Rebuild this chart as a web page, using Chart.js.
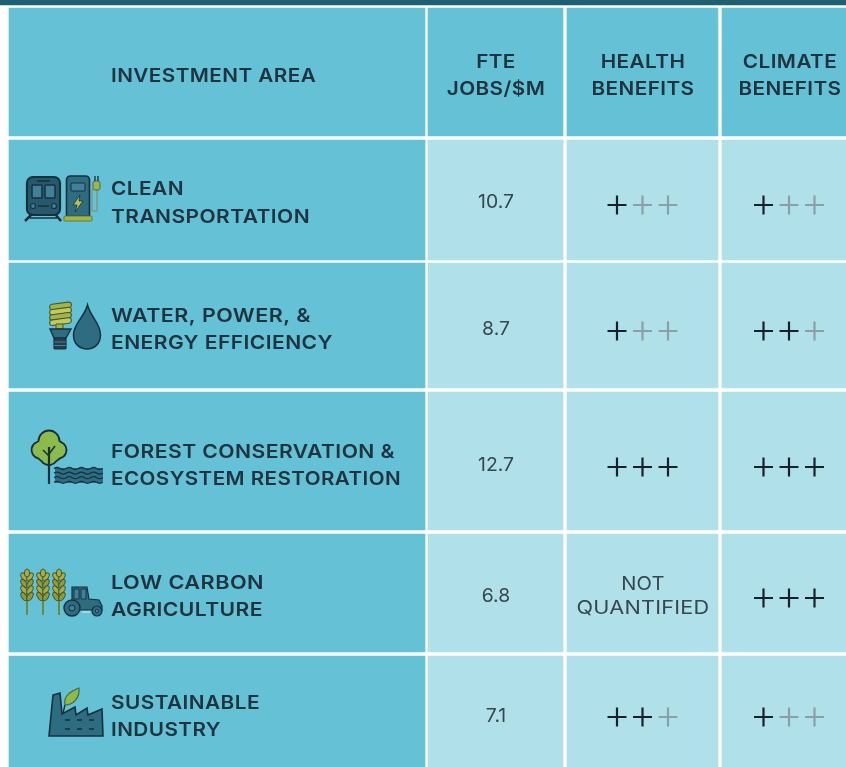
<!DOCTYPE html>
<html>
<head>
<meta charset="utf-8">
<title>Investment areas</title>
<script src="https://cdn.jsdelivr.net/npm/chart.js@4"></script>
<style>
  html, body { margin: 0; padding: 0; background: #fff; overflow: hidden; }
  canvas { display: block; }
</style>
</head>
<body>
<canvas id="chartTable" width="846" height="767"></canvas>
<script>
// data
const headers = [['INVESTMENT AREA'], ['FTE', 'JOBS/$M'], ['HEALTH', 'BENEFITS'], ['CLIMATE', 'BENEFITS']];
const investmentAreas = [
    ['CLEAN', 'TRANSPORTATION'],
    ['WATER, POWER, &', 'ENERGY EFFICIENCY'],
    ['FOREST CONSERVATION &', 'ECOSYSTEM RESTORATION'],
    ['LOW CARBON', 'AGRICULTURE'],
    ['SUSTAINABLE', 'INDUSTRY']
];
const fteJobs = [10.7, 8.7, 12.7, 6.8, 7.1];
const healthBenefits = [1, 1, 3, null, 2];   // null = not quantified
const climateBenefits = [1, 2, 3, 3, 1];
const maxScore = 3;
const notQuantified = ['NOT', 'QUANTIFIED'];

// layout of the table, in canvas pixels
const columnEdges = [[9, 425], [428, 563], [567, 718], [722, 846]];
const rowEdges = [[8, 136], [140, 260], [263, 388], [392, 530], [534, 652], [656, 767]];
const topBand = [0, 5];
const columnCenters = [213, 496, 643, 790];
const plusCenters = [642.5, 789];
const plusStep = 25.5;
const plusY = [205, 331, 467, 598, 717];
const valueY = [201, 328, 464, 595, 715];
const labelX = 111;
const labelBaselines = [[195, 223], [322, 349], [458, 485], [589, 616], [709, 736]];
const labelRight = [[184, 310], [311, 333], [395, 401], [264, 263], [260, 221]];
const headerBaselines = [[82], [68, 95], [68, 95], [68, 95]];

const blue = '#64c1d6';
const lightBlue = '#b0e0ea';
const band = '#1c6072';
const ink = '#20343f';
const plusOn = '#16212c';
const plusOff = '#8a9fa8';

// one floating bar dataset for each row of the table
const rowDatasets = rowEdges.map((edges, r) => ({
    type: 'bar',
    indexAxis: 'y',
    grouped: false,
    order: 1,
    barThickness: edges[1] - edges[0],
    data: columnEdges.map(c => ({ x: c, y: (edges[0] + edges[1]) / 2 })),
    backgroundColor: columnEdges.map((c, i) => (r === 0 || i === 0) ? blue : lightBlue),
    borderWidth: 0
}));

const bandDataset = {
    type: 'bar',
    indexAxis: 'y',
    grouped: false,
    order: 1,
    barThickness: topBand[1] - topBand[0],
    data: [{ x: [0, 846], y: (topBand[0] + topBand[1]) / 2 }],
    backgroundColor: band,
    borderWidth: 0
};

// the + marks come from the scores
function plusDataset(scores, centerX) {
    const data = [];
    const colors = [];
    scores.forEach((score, r) => {
        if (score === null) return;
        for (let i = 0; i < maxScore; i++) {
            data.push({ x: centerX + (i - 1) * plusStep, y: plusY[r] });
            colors.push(i < score ? plusOn : plusOff);
        }
    });
    return {
        type: 'scatter',
        order: 0,
        data: data,
        pointStyle: 'cross',
        pointRadius: 9.5,
        pointBorderWidth: 2.2,
        pointBorderColor: colors,
        pointBackgroundColor: colors
    };
}

function label(ctx, str, x, y, font, color, align, stretch, spacing, right) {
    ctx.save();
    ctx.font = font;
    ctx.fillStyle = color;
    ctx.textBaseline = 'alphabetic';
    ctx.letterSpacing = (spacing || 0) + 'px';
    // with a right edge given the line is stretched to reach it
    const natural = ctx.measureText(str).width;
    if (right) stretch = (right - x) / natural;
    const w = natural * stretch;
    const left = align === 'center' ? x - w / 2 : x;
    ctx.translate(left, y);
    ctx.scale(stretch, 1);
    ctx.textAlign = 'left';
    ctx.fillText(str, 0, 0);
    ctx.restore();
}

// icons
const dark = '#17303c';
const teal = '#2e6c82';
const teal2 = '#3f8199';
const olive = '#a3b54a';
const leaf = '#8dba4c';

function poly(ctx, pts, fill, stroke, lw) {
    ctx.beginPath();
    pts.forEach((p, i) => i ? ctx.lineTo(p[0], p[1]) : ctx.moveTo(p[0], p[1]));
    ctx.closePath();
    if (fill) { ctx.fillStyle = fill; ctx.fill(); }
    if (stroke) { ctx.strokeStyle = stroke; ctx.lineWidth = lw || 1.5; ctx.stroke(); }
}
function rrect(ctx, x, y, w, h, r, fill, stroke, lw) {
    ctx.beginPath();
    ctx.roundRect(x, y, w, h, r);
    if (fill) { ctx.fillStyle = fill; ctx.fill(); }
    if (stroke) { ctx.strokeStyle = stroke; ctx.lineWidth = lw || 1.5; ctx.stroke(); }
}
function circle(ctx, x, y, r, fill, stroke, lw) {
    ctx.beginPath();
    ctx.arc(x, y, r, 0, Math.PI * 2);
    if (fill) { ctx.fillStyle = fill; ctx.fill(); }
    if (stroke) { ctx.strokeStyle = stroke; ctx.lineWidth = lw || 1.5; ctx.stroke(); }
}
function line(ctx, x0, y0, x1, y1, color, lw) {
    ctx.beginPath();
    ctx.moveTo(x0, y0);
    ctx.lineTo(x1, y1);
    ctx.strokeStyle = color;
    ctx.lineWidth = lw || 1.5;
    ctx.stroke();
}

function drawTrainAndPump(ctx) {
    // train
    line(ctx, 32, 214, 25, 221, dark, 2.5);
    line(ctx, 55, 214, 61, 221, dark, 2.5);
    line(ctx, 30, 218, 57, 218, dark, 1.5);
    rrect(ctx, 27, 177, 33, 38, 6, '#27596c', dark, 2.2);
    rrect(ctx, 32, 185, 10, 13, 1, teal2, dark, 1.5);
    rrect(ctx, 45, 185, 10, 13, 1, teal2, dark, 1.5);
    line(ctx, 37, 181, 50, 181, dark, 1.5);
    circle(ctx, 33, 206, 2.5, teal2, dark, 1.2);
    circle(ctx, 54, 206, 2.5, teal2, dark, 1.2);
    line(ctx, 38, 206, 49, 206, dark, 1.5);
    // pump
    rrect(ctx, 66.5, 176, 23, 40, [4, 4, 0, 0], teal, dark, 1.6);
    rrect(ctx, 71, 183, 14, 8, 1, teal2, dark, 1);
    poly(ctx, [[80, 195], [73, 205], [77, 205], [75, 212], [83, 201], [79, 201]], '#b7c34e', dark, 0.8);
    rrect(ctx, 64, 216, 28, 5, 1, olive, '#5e7a3b', 1);
    // hose and nozzle
    ctx.beginPath();
    ctx.moveTo(90, 190);
    ctx.lineTo(92, 190);
    ctx.lineTo(92, 211);
    ctx.lineTo(97, 211);
    ctx.lineTo(97, 190);
    ctx.strokeStyle = '#7e9c8a';
    ctx.lineWidth = 1.6;
    ctx.stroke();
    rrect(ctx, 93, 181, 7, 9, 2, olive, '#4c6a4a', 1);
    line(ctx, 95, 176, 95, 181, dark, 1.3);
    line(ctx, 98, 176, 98, 181, dark, 1.3);
}

function drawBulbAndDrop(ctx) {
    // spiral
    for (let i = 0; i < 4; i++) {
        ctx.save();
        ctx.translate(60.5, 306 + i * 5.2);
        ctx.rotate(-0.13);
        rrect(ctx, -11, -2.8, 22, 5.6, 2.8, i % 2 ? '#c3c95c' : olive, '#44592f', 1.1);
        ctx.restore();
    }
    rrect(ctx, 56, 324, 7, 5, 0, olive, '#44592f', 1);
    // base
    poly(ctx, [[50, 329], [71, 329], [66, 338], [54, 338]], teal, dark, 1.4);
    rrect(ctx, 54, 338, 12, 11, 1, '#223f4b', dark, 1.2);
    line(ctx, 54, 342, 66, 342, '#4c7f8f', 1);
    line(ctx, 54, 345.5, 66, 345.5, '#4c7f8f', 1);
    // drop
    ctx.beginPath();
    ctx.moveTo(87.5, 305);
    ctx.bezierCurveTo(91, 318, 100.5, 323, 100.5, 335);
    ctx.bezierCurveTo(100.5, 344, 94, 349, 87, 349);
    ctx.bezierCurveTo(80, 349, 73.5, 344, 73.5, 335);
    ctx.bezierCurveTo(73.5, 323, 84, 318, 87.5, 305);
    ctx.closePath();
    ctx.fillStyle = teal;
    ctx.fill();
    ctx.strokeStyle = dark;
    ctx.lineWidth = 1.5;
    ctx.stroke();
}

function drawTreeAndWater(ctx) {
    // crown
    ctx.beginPath();
    ctx.arc(49, 441, 10.5, Math.PI, 0);
    ctx.arc(58, 450, 8.5, -1.2, 1.3);
    ctx.arc(49, 456, 9, 0.6, 2.5);
    ctx.arc(40, 450, 8.5, 1.8, 4.3);
    ctx.closePath();
    ctx.fillStyle = leaf;
    ctx.fill();
    ctx.strokeStyle = dark;
    ctx.lineWidth = 1.8;
    ctx.stroke();
    // trunk
    line(ctx, 49, 447, 49, 484, dark, 2.2);
    line(ctx, 49, 456, 43, 450, dark, 1.6);
    line(ctx, 49, 454, 55, 446, dark, 1.6);
    // water
    ctx.fillStyle = teal;
    ctx.fillRect(55, 468, 48, 15);
    for (let w = 0; w < 4; w++) {
        ctx.beginPath();
        for (let i = 0; i < 4; i++) {
            const x = 54 + i * 12.2;
            const y = 468.5 + w * 4.6;
            if (i === 0) ctx.moveTo(x, y);
            ctx.quadraticCurveTo(x + 3, y - 2, x + 6.1, y);
            ctx.quadraticCurveTo(x + 9, y + 2, x + 12.2, y);
        }
        ctx.strokeStyle = dark;
        ctx.lineWidth = 1.3;
        ctx.stroke();
    }
}

function drawWheat(ctx, x) {
    line(ctx, x, 592, x, 615, '#6f8a3e', 2);
    for (let i = 0; i < 4; i++) {
        const y = 577 + i * 6.5;
        [-1, 1].forEach(s => {
            ctx.save();
            ctx.translate(x + s * 3, y);
            ctx.rotate(s * 0.55);
            ctx.beginPath();
            ctx.ellipse(0, 0, 2.4, 4.6, 0, 0, Math.PI * 2);
            ctx.fillStyle = i % 2 ? '#8d9a3e' : '#a9ad48';
            ctx.fill();
            ctx.strokeStyle = '#3d4f2a';
            ctx.lineWidth = 0.9;
            ctx.stroke();
            ctx.restore();
        });
    }
    ctx.beginPath();
    ctx.ellipse(x, 573, 2.6, 4, 0, 0, Math.PI * 2);
    ctx.fillStyle = '#a9ad48';
    ctx.fill();
    ctx.strokeStyle = '#3d4f2a';
    ctx.lineWidth = 0.9;
    ctx.stroke();
}

function drawWheatAndTractor(ctx) {
    drawWheat(ctx, 27);
    drawWheat(ctx, 43);
    drawWheat(ctx, 59);
    // tractor
    poly(ctx, [[72, 587], [87, 587], [89, 599], [99, 600], [102, 606], [102, 610], [72, 610]], teal, dark, 1.2);
    rrect(ctx, 74, 589, 5, 10, 0, teal2, dark, 0.9);
    rrect(ctx, 81, 589, 5, 10, 0, teal2, dark, 0.9);
    circle(ctx, 72, 608, 8, teal, dark, 1.4);
    circle(ctx, 72, 608, 3, teal2, dark, 1);
    circle(ctx, 97, 611, 5, teal, dark, 1.2);
    circle(ctx, 97, 611, 1.8, teal2, dark, 0.8);
    line(ctx, 82, 612, 90, 612, '#c9e5ea', 1.3);
}

function drawFactory(ctx) {
    poly(ctx, [[49, 736], [53, 695], [60, 693], [62, 714], [75, 707], [76, 715], [87, 708], [88, 715], [102, 709], [103, 736]], teal, dark, 1.6);
    for (let r = 0; r < 2; r++) {
        for (let c = 0; c < 3; c++) {
            line(ctx, 65 + c * 12, 720 + r * 9, 70 + c * 12, 720 + r * 9, dark, 1.6);
        }
    }
    // leaf
    ctx.beginPath();
    ctx.moveTo(65, 705);
    ctx.bezierCurveTo(63, 695, 72, 691, 79, 688);
    ctx.bezierCurveTo(80, 697, 74, 705, 65, 705);
    ctx.closePath();
    ctx.fillStyle = leaf;
    ctx.fill();
    ctx.strokeStyle = '#4d6636';
    ctx.lineWidth = 1.2;
    ctx.stroke();
    line(ctx, 65, 705, 63, 713, dark, 1.4);
}

const iconDrawers = [drawTrainAndPump, drawBulbAndDrop, drawTreeAndWater, drawWheatAndTractor, drawFactory];

// all the text and the icons go on top of the cells
const tableText = {
    id: 'tableText',
    afterDatasetsDraw(chart) {
        const ctx = chart.ctx;
        const bold = '600 19px Inter';
        const regular = '400 19px Inter';

        headers.forEach((lines, c) => {
            lines.forEach((str, l) => {
                if (c === 0) label(ctx, str, labelX, headerBaselines[c][l], bold, ink, 'left', 1.09, 0.4);
                else label(ctx, str, columnCenters[c], headerBaselines[c][l], bold, ink, 'center', 1.09, 0.4);
            });
        });
        investmentAreas.forEach((lines, r) => {
            lines.forEach((str, l) => {
                label(ctx, str, labelX, labelBaselines[r][l], bold, ink, 'left', 1.09, 0.4, labelRight[r][l]);
            });
            iconDrawers[r](ctx);
        });
        fteJobs.forEach((v, r) => {
            label(ctx, v.toFixed(1), columnCenters[1], valueY[r] + 7, regular, '#35474f', 'center', 1.02, 0);
        });
        healthBenefits.forEach((v, r) => {
            if (v !== null) return;
            label(ctx, notQuantified[0], columnCenters[2], plusY[r] - 8, regular, '#35474f', 'center', 1.06, 0.2);
            label(ctx, notQuantified[1], columnCenters[2], plusY[r] + 16, regular, '#35474f', 'center', 1.14, 0.2);
        });
    }
};

// config
const configTable = {
    type: 'bar',
    data: {
        datasets: [
            bandDataset,
            ...rowDatasets,
            plusDataset(healthBenefits, plusCenters[0]),
            plusDataset(climateBenefits, plusCenters[1])
        ]
    },
    options: {
        responsive: false,
        animation: false,
        layout: { padding: 0, autoPadding: false },
        plugins: { legend: { display: false }, tooltip: { enabled: false }, title: { display: false } },
        scales: {
            x: { type: 'linear', min: 0, max: 846, display: false, offset: false },
            y: { type: 'linear', min: 0, max: 767, reverse: true, display: false, offset: false }
        }
    },
    plugins: [tableText]
};

const chartTable = new Chart(document.getElementById('chartTable').getContext('2d'), configTable);
</script>
</body>
</html>
